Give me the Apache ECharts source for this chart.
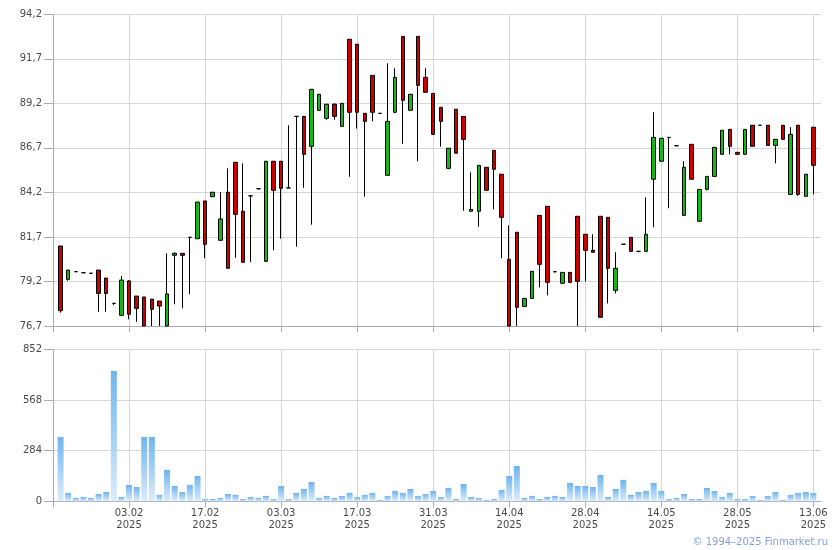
<!DOCTYPE html>
<html>
<head>
<meta charset="utf-8">
<script src="https://cdn.jsdelivr.net/npm/echarts@6/dist/echarts.min.js"></script>
<style>
html,body{margin:0;padding:0;background:#fff;}
#chart{width:840px;height:550px;}
</style>
</head>
<body>
<div id="chart"></div>
<script>
// Trading dates (first and last entries are empty padding slots)
const dates = ['20.01','21.01','22.01','23.01','24.01','27.01','28.01','29.01','30.01','31.01',
'03.02','04.02','05.02','06.02','07.02','10.02','11.02','12.02','13.02','14.02',
'17.02','18.02','19.02','20.02','21.02','24.02','25.02','26.02','27.02','28.02',
'03.03','04.03','05.03','06.03','07.03','10.03','11.03','12.03','13.03','14.03',
'17.03','18.03','19.03','20.03','21.03','24.03','25.03','26.03','27.03','28.03',
'31.03','01.04','02.04','03.04','04.04','07.04','08.04','09.04','10.04','11.04',
'14.04','15.04','16.04','17.04','18.04','21.04','22.04','23.04','24.04','25.04',
'28.04','29.04','30.04','02.05','05.05','06.05','07.05','08.05','12.05','13.05',
'14.05','15.05','16.05','19.05','20.05','21.05','22.05','23.05','26.05','27.05',
'28.05','29.05','30.05','02.06','03.06','04.06','05.06','09.06','10.06','11.06',
'13.06','16.06'];
const year = '2025';

const opens = [81.19,79.32,79.75,79.69,79.66,79.84,79.39,77.97,77.30,79.23,
78.38,78.33,78.21,78.10,76.70,80.67,80.78,81.68,81.60,83.72,
83.96,81.51,84.21,85.89,83.14,84.01,84.41,80.33,85.95,85.95,
84.45,88.47,88.47,86.79,88.81,88.36,89.15,87.91,92.80,92.52,
88.64,90.77,88.64,85.16,88.70,92.96,88.81,92.96,90.66,89.76,
88.98,85.55,88.87,88.47,83.14,83.14,85.61,86.56,85.22,80.44,
81.96,77.80,78.25,82.91,83.42,79.75,79.10,79.71,82.86,81.85,
80.95,82.86,82.80,78.70,81.29,81.68,80.89,80.89,84.94,85.95,
87.29,86.82,82.91,86.90,82.58,84.37,85.10,86.34,87.74,86.45,
86.34,87.97,87.97,87.97,86.84,87.97,84.09,87.97,83.98,87.86];
const closes = [77.56,79.84,79.75,79.69,79.66,78.53,78.53,77.97,79.28,77.36,
77.69,76.70,77.64,77.82,78.50,80.78,80.67,81.68,83.66,81.29,
84.21,82.71,79.94,82.97,80.28,84.01,84.41,85.95,84.32,84.43,
84.45,88.47,86.34,89.99,89.71,89.15,88.47,89.20,88.70,88.70,
88.19,88.70,88.64,88.19,90.66,89.37,89.71,90.21,89.82,87.46,
88.19,86.68,86.40,87.18,83.25,85.72,84.32,85.50,82.80,76.70,
77.75,78.25,79.77,80.16,79.15,79.75,79.71,79.15,79.21,80.95,
80.84,77.19,79.94,79.94,81.29,80.89,80.89,81.85,87.29,87.24,
87.29,86.82,85.61,84.94,84.37,85.10,86.73,87.69,86.79,86.34,
87.74,86.79,87.97,86.84,87.18,87.18,87.46,84.09,85.22,85.72];
const lows = [77.45,79.24,79.75,79.69,79.66,77.50,77.50,77.88,77.30,77.07,
76.94,76.70,76.70,76.70,76.70,77.92,77.69,78.48,81.60,80.50,
83.96,81.51,79.94,80.53,80.28,80.28,84.35,80.33,80.95,81.60,
84.45,81.15,84.46,82.39,88.81,88.28,88.28,87.91,85.08,87.78,
83.96,88.19,88.64,85.16,88.64,86.93,88.81,85.95,89.82,87.46,
86.77,85.50,86.40,83.17,83.14,82.27,84.32,83.25,80.50,76.70,
76.70,77.80,78.25,78.87,78.42,79.70,79.10,79.15,76.70,79.21,
80.84,77.19,77.97,78.53,81.29,80.89,80.84,80.89,82.24,85.95,
83.31,86.82,82.91,84.94,82.58,84.32,85.10,86.34,86.34,86.34,
86.34,86.79,87.97,86.84,85.83,87.18,84.09,84.01,83.98,84.09];
const highs = [81.19,79.84,79.75,79.69,79.66,79.84,79.39,77.97,79.51,79.28,
78.38,78.33,78.21,78.10,80.78,80.84,80.78,81.68,83.66,83.72,
84.21,84.21,85.55,85.89,85.83,84.01,84.41,85.95,85.95,85.95,
87.97,88.47,88.47,89.99,89.71,89.15,89.20,89.20,92.80,92.52,
88.64,90.77,88.64,91.45,91.17,92.96,89.71,92.96,91.17,89.76,
88.98,86.68,88.87,88.47,85.33,85.72,85.61,86.56,85.22,82.35,
81.96,78.25,79.77,82.91,83.42,79.75,79.71,79.71,82.86,81.85,
81.85,82.86,82.80,80.84,81.29,81.68,80.89,83.92,88.70,87.24,
87.29,86.82,85.95,86.90,84.37,85.10,86.73,87.69,87.74,86.45,
87.74,87.97,87.97,87.97,87.18,87.97,87.86,87.97,85.22,87.86];
const volumes = [361,47,19,24,19,41,52,730,24,92,
80,361,361,36,176,86,52,92,142,13,
13,19,41,36,13,24,19,30,13,86,
13,47,69,108,19,30,19,30,47,24,
36,47,8,30,58,47,69,30,41,58,
24,75,13,97,24,19,8,13,64,142,
198,19,30,13,24,30,24,103,86,86,
80,148,24,69,120,36,52,58,103,58,
13,19,41,13,13,75,58,24,47,13,
13,30,8,30,52,8,36,47,52,47];

const priceTicks = {min: 76.7, max: 94.2, step: 2.5};
const volumeTicks = {min: 0, max: 852, step: 284};

const candleData = [['-','-','-','-']];
const volData = ['-'];
for (let i = 0; i < opens.length; i++) {
  candleData.push([opens[i], closes[i], lows[i], highs[i]]);
  volData.push(volumes[i]);
}
candleData.push(['-','-','-','-']);
volData.push('-');

const markIdx = (i) => i % 10 === 0 && i <= 100;
const labelIdx = (i) => i % 10 === 0 && i > 0 && i <= 100;

const FONT = 'DejaVu Sans';
const axisCol = '#a7abb4';
const gridCol = '#d3d6da';
const textCol = '#4a4a4a';

const chart = echarts.init(document.getElementById('chart'), null, {renderer: 'canvas'});
chart.setOption({
  animation: false,
  backgroundColor: '#fff',
  textStyle: {fontFamily: FONT},
  grid: [
    {left: 53, width: 768, top: 14.3, height: 311.7},
    {left: 53, width: 768, top: 349.3, height: 152}
  ],
  xAxis: [
    {
      type: 'category', gridIndex: 0, data: dates, boundaryGap: false,
      axisLine: {lineStyle: {color: axisCol, width: 1}},
      axisTick: {show: true, interval: markIdx, length: 6, lineStyle: {color: axisCol}},
      axisLabel: {show: false},
      splitLine: {show: true, interval: markIdx, lineStyle: {color: gridCol, width: 1}}
    },
    {
      type: 'category', gridIndex: 1, data: dates, boundaryGap: false,
      axisLine: {lineStyle: {color: axisCol, width: 1}},
      axisTick: {show: true, interval: markIdx, length: 6, lineStyle: {color: axisCol}},
      axisLabel: {
        show: true, interval: labelIdx, margin: 6,
        fontFamily: FONT, fontSize: 10, color: textCol, lineHeight: 12,
        formatter: (v) => v + '\n' + year
      },
      splitLine: {show: true, interval: markIdx, lineStyle: {color: gridCol, width: 1}}
    }
  ],
  yAxis: [
    {
      type: 'value', gridIndex: 0,
      min: priceTicks.min, max: priceTicks.max, interval: priceTicks.step,
      axisLine: {show: true, lineStyle: {color: axisCol}},
      axisTick: {show: true, length: 9, lineStyle: {color: axisCol}},
      axisLabel: {margin: 11, fontFamily: FONT, fontSize: 10, color: textCol,
        formatter: (v) => v.toFixed(1).replace('.', ',')},
      splitLine: {show: true, lineStyle: {color: gridCol, width: 1}}
    },
    {
      type: 'value', gridIndex: 1,
      min: volumeTicks.min, max: volumeTicks.max, interval: volumeTicks.step,
      axisLine: {show: true, lineStyle: {color: axisCol}},
      axisTick: {show: true, length: 9, lineStyle: {color: axisCol}},
      axisLabel: {margin: 11, fontFamily: FONT, fontSize: 10, color: textCol},
      splitLine: {show: true, lineStyle: {color: gridCol, width: 1}}
    }
  ],
  series: [
    {
      type: 'candlestick', xAxisIndex: 0, yAxisIndex: 0,
      data: candleData, barWidth: 4,
      itemStyle: {
        color: '#12bb12', color0: '#cc0000',
        borderColor: '#000', borderColor0: '#000', borderColorDoji: '#000',
        borderWidth: 1
      }
    },
    {
      type: 'bar', xAxisIndex: 1, yAxisIndex: 1,
      data: volData, barWidth: 6,
      itemStyle: {
        color: {
          type: 'linear', x: 0, y: 0, x2: 0, y2: 1,
          colorStops: [{offset: 0, color: '#6fb4ee'}, {offset: 1, color: '#dcecfb'}]
        }
      }
    }
  ],
  graphic: [
    {
      type: 'text', right: 12, top: 537,
      style: {text: '© 1994–2025 Finmarket.ru', fill: '#7f9fe6', font: '10px "DejaVu Sans"'}
    }
  ]
});
</script>
</body>
</html>
